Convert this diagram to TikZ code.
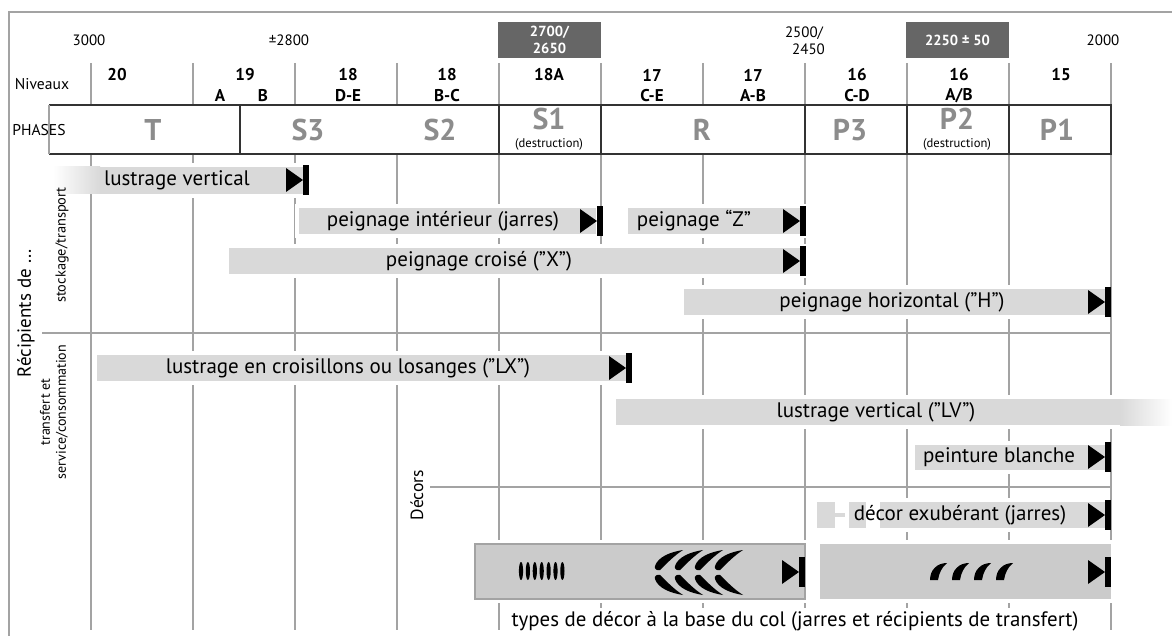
\documentclass[tikz,border=0pt]{standalone}
\usepackage{fontspec}
\setmainfont{PT Sans}
\definecolor{barfill}{HTML}{D9D9D9}
\definecolor{gridgray}{HTML}{A3A3A3}
\definecolor{phasegray}{HTML}{8C8C8C}
\definecolor{darkbox}{HTML}{666666}
\definecolor{decorfill}{HTML}{CBCBCB}
\newcommand{\setfs}[1]{\fontsize{#1}{#1}\selectfont}
% stop marker: triangle and bar, right edge at (#1,#2)
\newcommand{\stopmark}[2]{%
  \fill (#1-23,#2-12) -- (#1-23,#2+12) -- (#1-6,#2) -- cycle;
  \fill (#1-6,#2-15) rectangle (#1,#2+15);}
\begin{document}
\begin{tikzpicture}[x=0.5pt,y=-0.5pt,every node/.style={inner sep=0pt},
  gridline/.style={draw=gridgray,line width=0.6pt},
  bar/.style={fill=barfill,preaction={draw=white,line width=4pt}},
  barlabel/.style={font=\setfs{10.5}},
  year/.style={font=\setfs{7.5}},
  level/.style={font=\bfseries\setfs{8.5}},
  phase/.style={font=\bfseries\setfs{15},text=phasegray},
  destr/.style={font=\setfs{6.3}},
  datebox/.style={fill=darkbox,text=white,font=\bfseries\setfs{7.3},minimum width=51.5pt,minimum height=18pt,align=center}]
\useasboundingbox (0,0) rectangle (1172,636);
% frame and grid
\draw[gridgray,line width=0.8pt] (1172,12) -- (9,12) -- (9,636);
\foreach \x in {91,193,...,1111}{
  \draw[gridline] (\x,63) -- (\x,105);
  \draw[gridline] (\x,154) -- (\x,630);}
\draw[gridline] (42,333) -- (1111,333);
\draw[gridline] (430,487) -- (1111,487);

% dates
\node[year] (d3000) at (89,40) {3000};
\node[year] (d2800) at (289,40) {±2800};
\node[datebox] (d2700) at (549.5,40) {2700/\\[1pt]2650};
\node[year,align=center] (d2500) at (804,41) {2500/\\[1pt]\hspace*{0.6em}2450};
\node[datebox] (d2250) at (957.5,40) {2250 ± 50};
\node[year] (d2000) at (1103,40) {2000};

% niveaux
\node[font=\setfs{7.8}] (niv) at (42,84) {Niveaux};
\foreach \x/\n in {117/20,245/19,348/18,447/18,549/18A,652/17,753/17,857/16,959/16,1061/15}
  \node[level] (n\x) at (\x,75) {\n};
\foreach \x/\s in {220/A,263/B,348/D-E,447/B-C,652/C-E,753/A-B,857/C-D,959/{A/B}}
  \node[level] (s\x) at (\x,96) {\s};

% phases
\node[font=\setfs{7.8}] (phases) at (39,130) {PHASES};
\draw[black!80,line width=0.7pt] (49,105) -- (1111,105) -- (1111,154) -- (49,154);
\draw[gridgray,line width=0.6pt] (49,105) -- (49,154);
\foreach \x in {240,499,601,805,907,1009}
  \draw[black!80,line width=0.7pt] (\x,105) -- (\x,154);
\node[phase] (pT) at (153,130) {T};
\node[phase] (pS3) at (308,130) {S3};
\node[phase] (pS2) at (440,130) {S2};
\node[phase] (pS1) at (549,119) {S1};
\node[destr] (dS1) at (549,144) {(destruction)};
\node[phase] (pR) at (702,130) {R};
\node[phase] (pP3) at (850,130) {P3};
\node[phase] (pP2) at (957,119) {P2};
\node[destr] (dP2) at (957,144) {(destruction)};
\node[phase] (pP1) at (1057,130) {P1};

% bars: stockage/transport
\fill[barfill,preaction={draw=white,line width=4pt}] (100,167) rectangle (303,194);
\shade[left color=white,right color=barfill] (53,167) rectangle (100,194);
\stopmark{309}{180}
\node[barlabel] (lv1) at (177,180) {lustrage vertical};
\path[bar] (299,208) rectangle (596,234);
\stopmark{603}{221}
\node[barlabel] (pint) at (443,221) {peignage intérieur (jarres)};
\path[bar] (628,208) rectangle (802,234);
\stopmark{806}{221}
\node[barlabel] (pz) at (694,221) {peignage “Z”};
\path[bar] (229,248) rectangle (802,274);
\stopmark{806}{261}
\node[barlabel] (px) at (479,261) {peignage croisé (”X”)};
\path[bar] (684,289) rectangle (1106,315);
\stopmark{1111}{302}
\node[barlabel] (ph) at (892,302) {peignage horizontal (”H”)};

% bars: transfert et service/consommation
\path[bar] (97,355) rectangle (628,381);
\stopmark{632}{368}
\node[barlabel] (lx) at (348,368) {lustrage en croisillons ou losanges (”LX”)};
\path[bar] (616,399) rectangle (1120,425);
\shade[left color=barfill,right color=white] (1120,399) rectangle (1172,425);
\node[barlabel] (lv2) at (876,412) {lustrage vertical (”LV”)};
\path[bar] (915,445) rectangle (1106,470);
\stopmark{1111}{457}
\node[barlabel] (pb) at (999,457) {peinture blanche};

% décors
\path[bar] (817,502) rectangle (835,528);
\fill[barfill] (835,513) rectangle (849,517);
\path[bar] (849,502) rectangle (866,528);
\path[bar] (880,502) rectangle (1106,528);
\stopmark{1111}{515}
\node[barlabel] (dex) at (960,515) {décor exubérant (jarres)};

\filldraw[fill=decorfill,draw=gridgray,line width=0.6pt,preaction={draw=white,line width=4pt}] (475,544) rectangle (805,599);
\stopmark{805}{572}
\foreach \i in {0,...,6}
  \fill (521+6.9*\i,571) ellipse [x radius=2.1,y radius=9];
\foreach \i in {0,...,3}{
  \fill (683+20*\i,550) .. controls (670+20*\i,552) and (658+20*\i,557) .. (655+20*\i,566)
    .. controls (654+20*\i,569) and (657+20*\i,571) .. (660+20*\i,570)
    .. controls (667+20*\i,563) and (675+20*\i,555) .. cycle;
  \fill (683+20*\i,595) .. controls (670+20*\i,593) and (658+20*\i,588) .. (655+20*\i,579)
    .. controls (654+20*\i,576) and (657+20*\i,574) .. (660+20*\i,575)
    .. controls (667+20*\i,582) and (675+20*\i,590) .. cycle;}
\path[bar,fill=decorfill] (820,544) rectangle (1111,599);
\stopmark{1111}{572}
\foreach \i in {0,...,3}
  \fill (930+22*\i,580) .. controls (930+22*\i,570) and (937+22*\i,563) .. (947+22*\i,563)
    .. controls (942+22*\i,567) and (939+22*\i,573) .. (938+22*\i,580) -- cycle;
\node[font=\setfs{10.45},fill=white,inner sep=1.5pt] (cap) at (795,621) {types de décor à la base du col (jarres et récipients de transfert)};

% left labels
\node[rotate=90,font=\setfs{9.5}] (recip) at (26,313) {Récipients de ...};
\node[rotate=90,font=\setfs{7.2}] (stock) at (62,245) {stockage/transport};
\node[rotate=90,font=\setfs{7},align=center] (transf) at (54,412) {transfert et\\[1pt]service/consommation};
\node[rotate=90,font=\setfs{8.8}] (decors) at (417,495) {Décors};
\end{tikzpicture}
\end{document}
